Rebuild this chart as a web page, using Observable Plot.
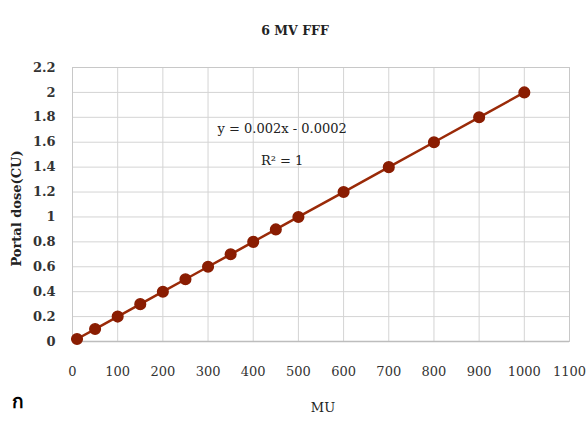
<!DOCTYPE html>
<html><head><meta charset="utf-8">
<script src="https://cdn.jsdelivr.net/npm/d3@7"></script>
<script src="https://cdn.jsdelivr.net/npm/@observablehq/plot@0.6"></script>
<style>
body{margin:0;background:#fff;}
</style></head>
<body><div id="c"></div>
<script>
const mu = [10, 50, 100, 150, 200, 250, 300, 350, 400, 450, 500, 600, 700, 800, 900, 1000];
const dose = [0.02, 0.1, 0.2, 0.3, 0.4, 0.5, 0.6, 0.7, 0.8, 0.9, 1.0, 1.2, 1.4, 1.6, 1.8, 2.0];
const xTicks = [0,100,200,300,400,500,600,700,800,900,1000,1100];
const yTicks = [0,0.2,0.4,0.6,0.8,1,1.2,1.4,1.6,1.8,2,2.2];
const title = "6 MV FFF";
const xLabel = "MU";
const yLabel = "Portal dose(CU)";
const eqText = "y = 0.002x - 0.0002";
const r2Text = "R² = 1";
const panelLabel = "ก";

const data = mu.map((m,i)=>({mu:m, dose:dose[i]}));
const serif = "'DejaVu Serif', 'Liberation Serif', serif";

const chart = Plot.plot({
  width: 587, height: 421,
  marginLeft: 72, marginRight: 18, marginTop: 67, marginBottom: 80,
  style: {fontFamily: serif, fontSize: "13px", color: "#333", background: "#fff"},
  x: {domain: [0, 1100], label: null},
  y: {domain: [0, 2.2], label: null},
  marks: [
    Plot.gridX(xTicks, {stroke: "#d4d4d4", strokeOpacity: 1}),
    Plot.gridY(yTicks, {stroke: "#d4d4d4", strokeOpacity: 1}),
    Plot.frame({stroke: "#c8c8c8"}),
    Plot.ruleY([0], {stroke: "#bdbdbd", strokeWidth: 1.5}),
    Plot.axisX({ticks: xTicks, tickSize: 0, tickPadding: 25, fontSize: 13, label: null, tickFormat: d => String(d)}),
    Plot.axisY({ticks: yTicks, tickSize: 0, tickPadding: 17, fontSize: 13, fontWeight: "bold", label: null, tickFormat: d => String(+d.toFixed(1))}),
    Plot.line(data, {x: "mu", y: "dose", stroke: "#9a2a08", strokeWidth: 2.5}),
    Plot.dot(data, {x: "mu", y: "dose", r: 5.3, fill: "#8a1d02", stroke: "#8a1d02"}),
    Plot.text([eqText], {x: 464, y: 1.71, text: d => d, fontSize: 13, fill: "#222"}),
    Plot.text([r2Text], {x: 464, y: 1.45, text: d => d, fontSize: 13, fill: "#222"}),
    Plot.text([title], {frameAnchor: "top", dx: -26, dy: -41, text: d => d, fontSize: 12.5, fontWeight: "bold", fill: "#222"}),
    Plot.text([xLabel], {frameAnchor: "bottom", dx: 2, dy: 70, text: d => d, fontSize: 13, fill: "#222"}),
    Plot.text([yLabel], {frameAnchor: "left", textAnchor: "middle", dx: -56, dy: 4, rotate: -90, text: d => d, fontSize: 13, fontWeight: "bold", fill: "#222"}),
    Plot.text([panelLabel], {frameAnchor: "bottom-left", textAnchor: "middle", dx: -55, dy: 66, text: d => d, fontSize: 19, fontWeight: "bold", fontFamily: "'Noto Sans', 'DejaVu Sans', sans-serif", fill: "#000"})
  ]
});
document.getElementById("c").append(chart);
</script></body></html>
